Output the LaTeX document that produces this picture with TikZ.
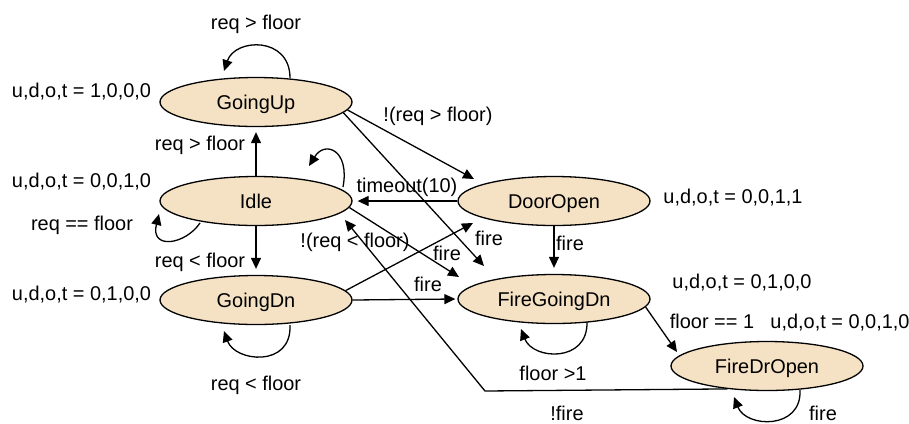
\documentclass[tikz,border=0pt]{standalone}
\usepackage{fontspec}
\setmainfont{Liberation Sans}
\usetikzlibrary{shapes.geometric,arrows.meta,calc}
\definecolor{stfill}{RGB}{245,226,196}
\begin{document}
\begin{tikzpicture}[x=1bp,y=-1bp,
  every node/.style={font=\fontsize{20}{24}\selectfont, inner sep=0pt, text height=14.4bp, text depth=0pt},
  st/.style={ellipse, draw, fill=stfill, line width=1.3bp, minimum width=192bp, minimum height=49bp},
  tr/.style={line width=1.3bp, -{Triangle[length=11bp,width=10bp]}},
  lbl/.style={anchor=center}]
\useasboundingbox (0,0) rectangle (909,423);
% states
\node[st] (GU) at (256,102) {GoingUp};
\node[st] (ID) at (256,201) {Idle};
\node[st] (GD) at (256,300) {GoingDn};
\node[st] (DO) at (554,201) {DoorOpen};
\node[st] (FGD) at (554,299) {FireGoingDn};
\node[st] (FDO) at (767,366) {FireDrOpen};
% self loops
\draw[tr] ($(GU)+(34,-24)$) .. controls ($(GU)+(34,-66)$) and ($(GU)+(-21,-64)$) .. ($(GU)+(-32,-31)$);
\draw[tr] ($(ID)+(87,-14)$) .. controls ($(ID)+(94,-51)$) and ($(ID)+(69,-61)$) .. ($(ID)+(53,-35)$);
\draw[tr] ($(ID)+(-56,22)$) .. controls ($(ID)+(-71,44)$) and ($(ID)+(-106,49)$) .. ($(ID)+(-97,13)$);
\draw[tr] ($(GD)+(34,25)$) .. controls ($(GD)+(36,68)$) and ($(GD)+(-21,62)$) .. ($(GD)+(-32,31)$);
\draw[tr] ($(FGD)+(33,23)$) .. controls ($(FGD)+(34,64)$) and ($(FGD)+(-21,61)$) .. ($(FGD)+(-33,30)$);
\draw[tr] ($(FDO)+(33,24)$) .. controls ($(FDO)+(35,64)$) and ($(FDO)+(-21,62)$) .. ($(FDO)+(-33,31)$);
% transitions
\draw[tr] (ID.north) -- ($(GU.south)+(0,5)$);
\draw[tr] (ID.south) -- ($(GD.north)+(0,-6)$);
\draw[tr] (DO.west) -- ($(ID.east)+(5,0)$);
\draw[tr] (DO.south) -- ($(FGD.north)+(0,-6)$);
\draw[tr] (GD.east) -- ($(FGD.west)+(-2,0)$);
\draw[tr] (GU.-5) -- ($(DO)+(-80,-22)$);
\draw[tr] (GU.-7) -- ($(FGD)+(-70,-33)$);
\draw[tr] (ID.-4) -- ($(FGD)+(-95,-22)$);
\draw[tr] (GD.6) -- ($(DO)+(-81,22)$);
\draw[tr] (FGD.-5) -- ($(FDO)+(-90,-14)$);
\coordinate (bend) at (485,391);
\draw[tr] (FDO.-150) -- (bend) -- ($(ID)+(89,19)$);
% labels
\node[lbl] (l1) at (256,22) {req > floor};
\node[lbl] (l2) at (81.5,90) {u,d,o,t = 1,0,0,0};
\node[lbl] (l3) at (200,143) {req > floor};
\node[lbl] (l4) at (81.5,180) {u,d,o,t = 0,0,1,0};
\node[lbl] (l5) at (82,223) {req == floor};
\node[lbl] (l6) at (200,260) {req < floor};
\node[lbl] (l7) at (81.5,293) {u,d,o,t = 0,1,0,0};
\node[lbl] (l8) at (256,383) {req < floor};
\node[lbl] (l9) at (438,114) {!(req > floor)};
\node[lbl] (l10) at (407,185) {timeout(10)};
\node[lbl] (l11) at (733,196) {u,d,o,t = 0,0,1,1};
\node[lbl] (l12) at (355,240) {!(req < floor)};
\node[lbl] (l13) at (489,238) {fire};
\node[lbl] (l14) at (447,253) {fire};
\node[lbl] (l15) at (428,284) {fire};
\node[lbl] (l16) at (570,243) {fire};
\node[lbl] (l17) at (742,281) {u,d,o,t = 0,1,0,0};
\node[lbl] (l18) at (712,321) {floor == 1};
\node[lbl] (l19) at (840,321) {u,d,o,t = 0,0,1,0};
\node[lbl] (l20) at (553,373) {floor >1};
\node[lbl] (l21) at (567,413) {!fire};
\node[lbl] (l22) at (823,413) {fire};
\end{tikzpicture}
\end{document}
